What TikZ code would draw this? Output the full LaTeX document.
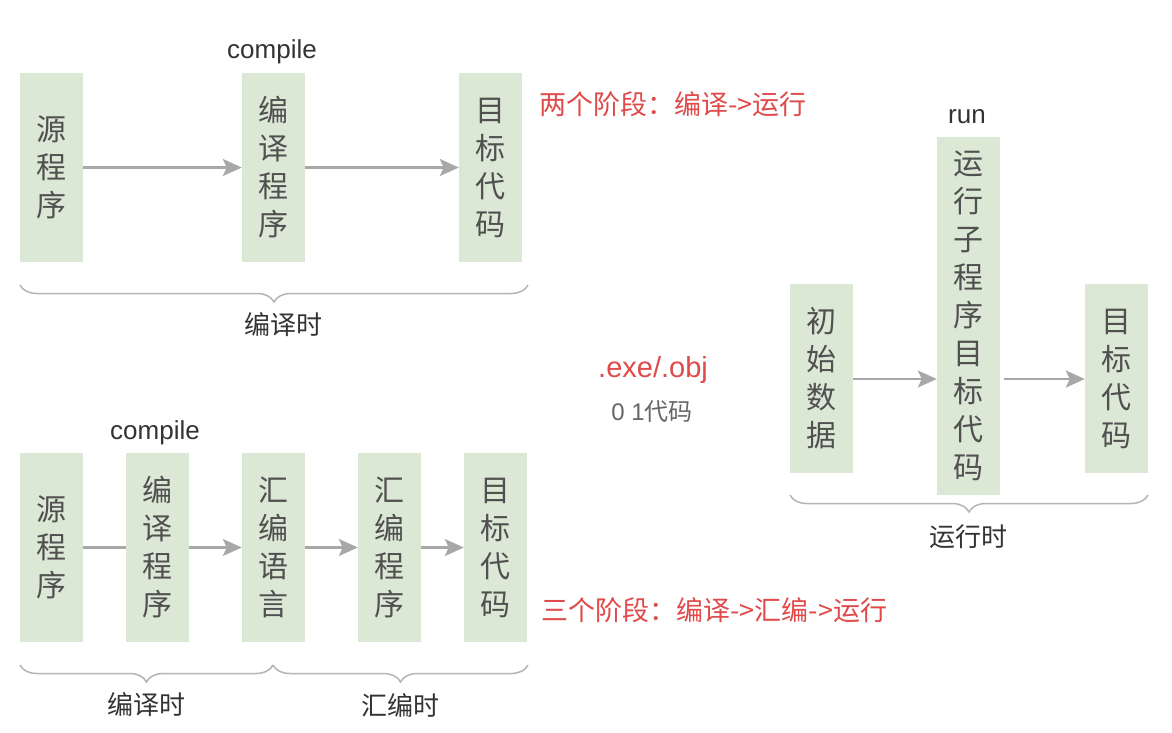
\documentclass[tikz,border=0pt]{standalone}
\usepackage{fontspec}
\setmainfont{Liberation Sans}
\newfontfamily\cjk{Noto Sans CJK SC}
\usetikzlibrary{arrows.meta,decorations.pathreplacing}
\definecolor{boxgreen}{HTML}{DCE8D6}
\definecolor{boxtext}{HTML}{505050}
\definecolor{arrowgray}{HTML}{A8A8A8}
\definecolor{bracegray}{HTML}{B4B4B4}
\definecolor{redtext}{HTML}{E04A4A}
\definecolor{labeltext}{HTML}{333333}
\definecolor{subtext}{HTML}{666666}
\begin{document}
\begin{tikzpicture}[x=1pt,y=-1pt,
  stagebox/.style={fill=boxgreen, minimum width=63pt, minimum height=189pt, inner sep=0pt,
    align=center, text=boxtext, font=\cjk\fontsize{30}{38}\selectfont},
  flow/.style={draw=arrowgray, line width=2.2pt, -{Stealth[length=19pt,width=17pt,inset=4pt]}},
  plainflow/.style={draw=arrowgray, line width=2.2pt},
  bracestyle/.style={draw=bracegray, line width=1.5pt, decorate, decoration={brace,mirror,amplitude=17pt}},
  lbl/.style={text=labeltext, font=\fontsize{26}{30}\selectfont},
  cjklbl/.style={text=labeltext, font=\cjk\fontsize{26}{30}\selectfont},
  note/.style={text=redtext, font=\cjk\fontsize{27}{32}\selectfont, anchor=west}]
\useasboundingbox[fill=white] (0,0) rectangle (1172,732);

% ---------- top row: two stages ----------
\node[stagebox] (t1) at (51.5,167.5) {源\\程\\序};
\node[stagebox] (t2) at (273.5,167.5) {编\\译\\程\\序};
\node[stagebox] (t3) at (490.5,167.5) {目\\标\\代\\码};
\node[lbl] (tc) at (272,52) {compile};
\draw[flow] (t1) -- (t2);
\draw[flow] (t2) -- (t3);
\draw[bracestyle] (20,285) -- (528,285);
\node[cjklbl] (tl) at (283,325) {编译时};
\node[note] (tn) at (536,104) {两个阶段：编译->运行};

% ---------- bottom row: three stages ----------
\node[stagebox] (b1) at (51.5,547.5) {源\\程\\序};
\node[stagebox] (b2) at (157.5,547.5) {编\\译\\程\\序};
\node[stagebox] (b3) at (273.5,547.5) {汇\\编\\语\\言};
\node[stagebox] (b4) at (389.5,547.5) {汇\\编\\程\\序};
\node[stagebox] (b5) at (495.5,547.5) {目\\标\\代\\码};
\node[lbl] (bc) at (155,433) {compile};
\draw[plainflow] (b1) -- (b2);
\draw[flow] (b2) -- (b3);
\draw[flow] (b3) -- (b4);
\draw[flow] (b4) -- (b5);
\draw[bracestyle] (20,665) -- (273,665);
\draw[bracestyle] (273,665) -- (528,665);
\node[cjklbl] (bl1) at (146,705) {编译时};
\node[cjklbl] (bl2) at (400,705) {汇编时};
\node[note] (bn) at (538,610) {三个阶段：编译->汇编->运行};

% ---------- middle notes ----------
\node[text=redtext, font=\fontsize{29}{34}\selectfont] (exe) at (653,370) {.exe/.obj};
\node[text=subtext, font=\fontsize{24}{28}\selectfont] (bin) at (652,412) {0 1{\cjk 代码}};

% ---------- right: run time ----------
\node[stagebox] (r1) at (821,378.5) {初\\始\\数\\据};
\node[stagebox, minimum height=358pt] (r2) at (968.5,316) {运\\行\\子\\程\\序\\目\\标\\代\\码};
\node[stagebox] (r3) at (1116.5,378.5) {目\\标\\代\\码};
\node[lbl] (rc) at (967,117) {run};
\draw[flow] (r1.east |- 0,379) -- (r2.west |- 0,379);
\draw[flow, shorten <=4pt] (r2.east |- 0,379) -- (r3.west |- 0,379);
\draw[bracestyle] (790,495) -- (1148,495);
\node[cjklbl] (rl) at (968,537) {运行时};
\end{tikzpicture}
\end{document}
